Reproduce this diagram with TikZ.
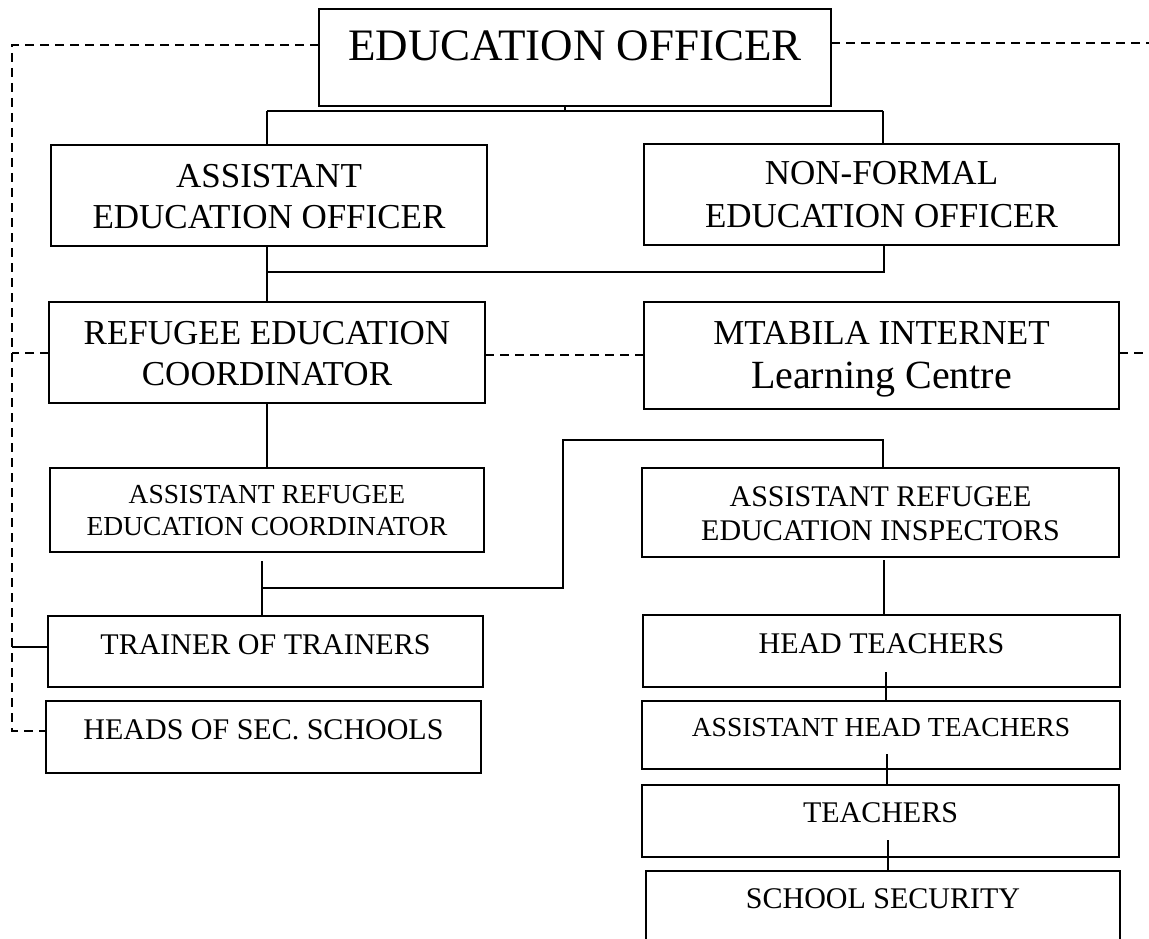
\documentclass[tikz,border=0pt]{standalone}
\usepackage{fontspec}
\setmainfont{Liberation Serif}
\newcommand\fsz[1]{\fontsize{#1pt}{#1pt}\selectfont}
\begin{document}
\begin{tikzpicture}[x=1pt,y=-1pt,
  box/.style={draw, line width=2.4pt, rectangle, inner sep=0pt, outer sep=0pt},
  lab/.style={anchor=base, inner sep=0pt},
  link/.style={line width=2.8pt},
  dot/.style={line width=2.4pt, dash pattern=on 9pt off 6pt}]
\useasboundingbox (0,0) rectangle (1149,939);

% ---- boxes ----
\node[box, minimum width=512pt, minimum height=97pt]  (eo)   at (575,57.5)  {};
\node[box, minimum width=436pt, minimum height=101pt] (aeo)  at (269,195.5) {};
\node[box, minimum width=475pt, minimum height=101pt] (nfeo) at (881.5,194.5) {};
\node[box, minimum width=436pt, minimum height=101pt] (rec)  at (267,352.5) {};
\node[box, minimum width=475pt, minimum height=107pt] (mt)   at (881.5,355.5) {};
\node[box, minimum width=434pt, minimum height=84pt]  (arec) at (267,510) {};
\node[box, minimum width=477pt, minimum height=89pt]  (arei) at (880.5,512.5) {};
\node[box, minimum width=435pt, minimum height=71pt]  (tot)  at (265.5,651.5) {};
\node[box, minimum width=435pt, minimum height=72pt]  (hoss) at (263.5,737) {};
\node[box, minimum width=477pt, minimum height=72pt]  (ht)   at (881.5,651) {};
\node[box, minimum width=478pt, minimum height=68pt]  (aht)  at (881,735) {};
\node[box, minimum width=477pt, minimum height=72pt]  (tch)  at (880.5,821) {};
\node[box, minimum width=474pt, minimum height=89pt]  (ss)   at (883,915.5) {};

% ---- labels ----
\node[lab, font=\fsz{45}] (eo-t) at (575,61) {EDUCATION OFFICER};
\node[lab, font=\fsz{35}] (aeo-t1) at (269,187) {ASSISTANT};
\node[lab, font=\fsz{35}] (aeo-t2) at (269,228) {EDUCATION OFFICER};
\node[lab, font=\fsz{35}] (nfeo-t1) at (881.5,185) {NON-FORMAL};
\node[lab, font=\fsz{35}] (nfeo-t2) at (881.5,227) {EDUCATION OFFICER};
\node[lab, font=\fsz{35}] (rec-t1) at (267,344) {REFUGEE EDUCATION};
\node[lab, font=\fsz{35}] (rec-t2) at (267,385) {COORDINATOR};
\node[lab, font=\fsz{35}] (mt-t1) at (881.5,344) {MTABILA INTERNET};
\node[lab, font=\fsz{40}] (mt-t2) at (881.5,388) {Learning Centre};
\node[lab, font=\fsz{27.5}] (arec-t1) at (267,503) {ASSISTANT REFUGEE};
\node[lab, font=\fsz{27.5}] (arec-t2) at (267,535) {EDUCATION COORDINATOR};
\node[lab, font=\fsz{30}] (arei-t1) at (880.5,506) {ASSISTANT REFUGEE};
\node[lab, font=\fsz{30}] (arei-t2) at (880.5,540) {EDUCATION INSPECTORS};
\node[lab, font=\fsz{30}] (tot-t) at (265.5,654) {TRAINER OF TRAINERS};
\node[lab, font=\fsz{30}] (hoss-t) at (263.5,739) {HEADS OF SEC. SCHOOLS};
\node[lab, font=\fsz{30}] (ht-t) at (881.5,653) {HEAD TEACHERS};
\node[lab, font=\fsz{27.5}] (aht-t) at (881,736) {ASSISTANT HEAD TEACHERS};
\node[lab, font=\fsz{30}] (tch-t) at (880.5,822) {TEACHERS};
\node[lab, font=\fsz{30}] (ss-t) at (883,908) {SCHOOL SECURITY};

% ---- junction points ----
\coordinate (j1) at (565,111);
\coordinate (ja) at (267,111);
\coordinate (jb) at (883,111);
\coordinate (jc) at (267,272);
\coordinate (jd) at (884,272);
\coordinate (je) at (262,561);
\coordinate (jf) at (262,588);
\coordinate (jg) at (563,588);
\coordinate (jh) at (563,440);
\coordinate (ji) at (883,440);
\coordinate (jj) at (884,560);
\coordinate (jk) at (886,672);
\coordinate (jl) at (887,754);
\coordinate (jm) at (888,840);
\coordinate (d1) at (12,45);
\coordinate (d2) at (12,731);
\coordinate (d3) at (12,353);
\coordinate (d4) at (12,647);
\coordinate (d5) at (1149,43);
\coordinate (d6) at (1149,353);
\coordinate (d7) at (0,355);

% ---- solid reporting lines ----
\draw[link] (eo.south -| j1) -- (j1);
\draw[link] (ja) -- (jb);
\draw[link] (ja) -- (aeo.north -| ja);
\draw[link] (jb) -- (nfeo.north -| jb);
\draw[link] (aeo.south -| jc) -- (rec.north -| jc);
\draw[link] (nfeo.south -| jd) -- (jd) -- (jc);
\draw[link] (rec.south) -- (arec.north);
\draw[link] (je) -- (tot.north -| je);
\draw[link] (jf) -- (jg) -- (jh) -- (ji) -- (arei.north -| ji);
\draw[link] (jj) -- (ht.north -| jj);
\draw[link] (jk) -- (aht.north -| jk);
\draw[link] (jl) -- (tch.north -| jl);
\draw[link] (jm) -- (ss.north -| jm);
\draw[link] (tot.west |- d4) -- (d4);

% ---- dashed liaison lines ----
\draw[dot] (eo.west |- d1) -- (d1) -- (d2) -- (hoss.west |- d2);
\draw[dot] (rec.west |- d3) -- (d3);
\draw[dot] (eo.east |- d5) -- (d5);
\draw[dot] (rec.east |- d7) -- (mt.west |- d7);
\draw[dot] (mt.east |- d6) -- (d6);
\end{tikzpicture}
\end{document}
